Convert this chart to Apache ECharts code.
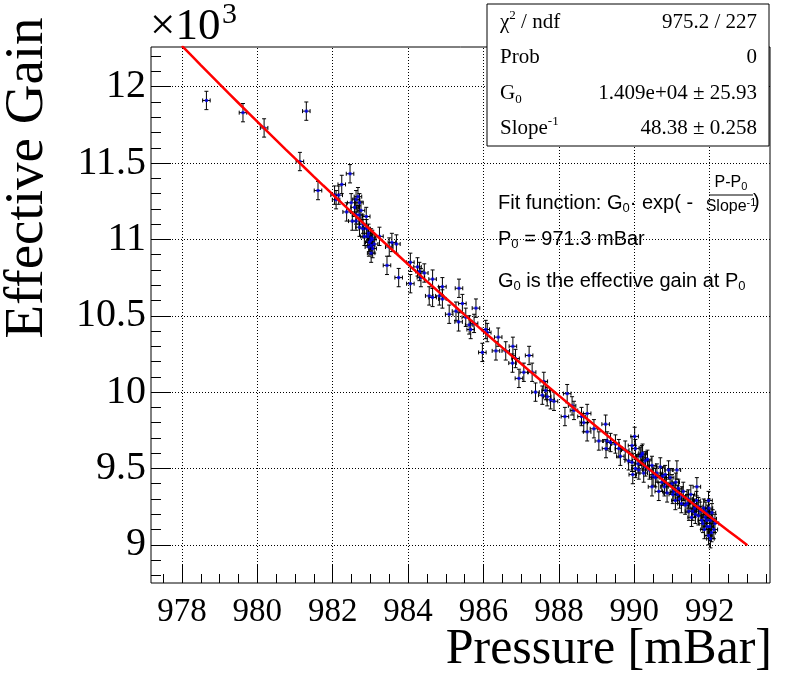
<!DOCTYPE html>
<html><head><meta charset="utf-8">
<script src="https://cdn.jsdelivr.net/npm/echarts@6/dist/echarts.min.js"></script>
<style>html,body{margin:0;padding:0;background:#fff}#c{width:788px;height:679px}</style>
</head><body><div id="c"></div>
<script>
// Pressure [mBar]
const pressure = [978.65,979.62,980.18,981.13,981.30,981.61,982.05,982.09,982.16,982.24,982.37,982.46,982.49,982.52,982.58,982.62,982.62,982.62,982.67,982.70,982.71,982.71,982.75,982.80,982.80,982.84,982.89,982.90,982.93,982.95,982.96,982.97,983.00,983.02,983.02,983.02,983.05,983.06,983.10,983.24,983.44,983.50,983.57,983.69,983.75,984.06,984.06,984.25,984.30,984.34,984.43,984.56,984.65,984.65,984.83,984.91,984.91,985.09,985.27,985.34,985.35,985.44,985.53,985.62,985.66,985.75,985.80,985.97,986.06,986.10,986.33,986.39,986.59,986.77,986.78,986.85,986.94,987.07,987.21,987.29,987.38,987.56,987.60,987.65,987.69,987.78,987.87,988.16,988.22,988.35,988.40,988.60,988.66,988.75,988.75,988.93,989.06,989.24,989.25,989.28,989.37,989.50,989.59,989.63,989.76,989.85,989.94,989.94,989.96,990.01,990.03,990.03,990.10,990.12,990.16,990.20,990.22,990.25,990.29,990.30,990.35,990.40,990.47,990.47,990.50,990.56,990.60,990.65,990.69,990.73,990.75,990.80,990.82,990.85,990.87,990.91,990.95,991.00,991.02,991.05,991.09,991.10,991.13,991.15,991.17,991.20,991.25,991.26,991.30,991.35,991.40,991.44,991.45,991.50,991.52,991.55,991.57,991.60,991.62,991.65,991.66,991.70,991.70,991.75,991.79,991.82,991.84,991.86,991.88,991.90,991.92,991.93,991.95,991.97,991.97,991.98,992.00,992.01,992.02,992.05,992.06,992.08,992.11,992.14];
// Effective gain [x10^3]
const gain = [11.91,11.83,11.73,11.51,11.84,11.32,11.29,11.26,11.29,11.36,11.18,11.43,11.24,11.12,11.21,11.26,11.16,11.12,11.28,11.16,11.24,11.08,11.19,11.07,11.10,11.02,11.15,11.07,11.02,11.04,10.95,10.98,10.99,11.01,10.96,10.91,11.00,10.94,10.97,11.02,10.83,10.95,10.98,10.97,10.75,10.85,10.71,10.82,10.79,10.75,10.78,10.63,10.74,10.62,10.63,10.69,10.61,10.51,10.53,10.46,10.68,10.58,10.49,10.44,10.41,10.45,10.55,10.26,10.41,10.39,10.27,10.36,10.27,10.19,10.30,10.22,10.09,10.13,10.24,10.13,10.00,9.98,10.07,10.01,9.97,9.95,9.94,9.84,9.99,9.91,9.88,9.84,9.80,9.86,9.74,9.76,9.68,9.79,9.63,9.68,9.67,9.66,9.63,9.58,9.62,9.55,9.65,9.54,9.46,9.71,9.63,9.50,9.53,9.49,9.58,9.59,9.60,9.47,9.55,9.51,9.56,9.49,9.52,9.38,9.45,9.44,9.47,9.35,9.51,9.41,9.45,9.38,9.46,9.40,9.34,9.49,9.44,9.40,9.33,9.35,9.29,9.41,9.49,9.33,9.37,9.30,9.27,9.32,9.35,9.26,9.27,9.30,9.22,9.33,9.18,9.22,9.27,9.24,9.20,9.29,9.38,9.25,9.19,9.22,9.16,9.14,9.24,9.10,9.18,9.22,9.16,9.12,9.20,9.29,9.06,9.24,9.12,9.16,9.04,9.08,9.21,9.17,9.10,9.14];
const pressureErr = 0.1;
const gainErr = 0.06;

const xTickValues = [978,980,982,984,986,988,990,992];
const yTickValues = [9,9.5,10,10.5,11,11.5,12];
const xRange = [977.18, 993.6];
const yRange = [8.75, 12.26];

// fit results
const fitG0 = 14.09;      // x10^3
const fitP0 = 971.3;
const fitSlopeInv = 48.38;
const fitRange = [978, 993];

const xMinor = []; for (let v = 977.5; v <= 993.5; v += 0.5) xMinor.push(+v.toFixed(2));
const yMinor = []; for (let v = 8.8; v <= 12.25; v += 0.1) yMinor.push(+v.toFixed(2));

const points = pressure.map((p, i) => [p, gain[i]]);
const fitCurve = [];
for (let p = fitRange[0]; p <= fitRange[1] + 1e-9; p += 0.25) {
  fitCurve.push([p, fitG0 * Math.exp(-(p - fitP0) / fitSlopeInv)]);
}

const SERIF = '"Liberation Serif","Times New Roman",serif';
const SANS = '"Liberation Sans",Arial,sans-serif';

function renderErr(params, api) {
  const x = api.value(0), y = api.value(1);
  const l = api.coord([x - pressureErr, y]);
  const r = api.coord([x + pressureErr, y]);
  const t = api.coord([x, y + gainErr]);
  const b = api.coord([x, y - gainErr]);
  const cap = 2;
  const ls = { stroke: '#000', lineWidth: 1 };
  return { type: 'group', children: [
    { type: 'line', shape: { x1: l[0], y1: l[1], x2: r[0], y2: r[1] }, style: ls },
    { type: 'line', shape: { x1: t[0], y1: t[1], x2: b[0], y2: b[1] }, style: ls },
    { type: 'line', shape: { x1: t[0] - cap, y1: t[1], x2: t[0] + cap, y2: t[1] }, style: ls },
    { type: 'line', shape: { x1: b[0] - cap, y1: b[1], x2: b[0] + cap, y2: b[1] }, style: ls },
    { type: 'line', shape: { x1: l[0], y1: l[1] - cap, x2: l[0], y2: l[1] + cap }, style: ls },
    { type: 'line', shape: { x1: r[0], y1: r[1] - cap, x2: r[0], y2: r[1] + cap }, style: ls }
  ]};
}

const chart = echarts.init(document.getElementById('c'), null, { renderer: 'canvas' });

const richBase = {
  n: { fontFamily: SERIF, fontSize: 21, lineHeight: 26, color: '#000' },
  sup: { fontFamily: SERIF, fontSize: 13, lineHeight: 13, verticalAlign: 'top', color: '#000' },
  sub: { fontFamily: SERIF, fontSize: 13, lineHeight: 13, verticalAlign: 'bottom', color: '#000' }
};
const richSans = {
  n: { fontFamily: SANS, fontSize: 20, lineHeight: 24, color: '#000' },
  sup: { fontFamily: SANS, fontSize: 13, lineHeight: 12, verticalAlign: 'top', color: '#000' },
  sub: { fontFamily: SANS, fontSize: 13, lineHeight: 12, verticalAlign: 'bottom', color: '#000' }
};
const richFrac = {
  n: { fontFamily: SANS, fontSize: 16, lineHeight: 19, color: '#000' },
  sup: { fontFamily: SANS, fontSize: 11, lineHeight: 10, verticalAlign: 'top', color: '#000' },
  sub: { fontFamily: SANS, fontSize: 11, lineHeight: 10, verticalAlign: 'bottom', color: '#000' }
};

const statRows = [
  ['{n|χ}{sup|2}{n| / ndf}', '975.2 / 227'],
  ['{n|Prob}', '0'],
  ['{n|G}{sub|0}', '1.409e+04 ± 25.93'],
  ['{n|Slope}{sup|-1}', '48.38 ± 0.258']
];
const statGraphics = [];
statGraphics.push({ type: 'rect', z: 100, shape: { x: 487, y: 4, width: 282, height: 142 }, style: { fill: '#fff', stroke: '#000', lineWidth: 1 } });
statRows.forEach((row, i) => {
  const yc = 22 + i * 35.5;
  statGraphics.push({ type: 'text', z: 101, x: 500, y: yc, style: { text: row[0], rich: richBase, align: 'left', verticalAlign: 'middle' } });
  statGraphics.push({ type: 'text', z: 101, x: 757, y: yc, style: { text: row[1], font: '21px ' + SERIF, fill: '#000', align: 'right', verticalAlign: 'middle' } });
});

const option = {
  animation: false,
  backgroundColor: '#fff',
  grid: { left: 151, top: 47, width: 619, height: 536, show: true, borderColor: '#000', borderWidth: 1, backgroundColor: 'transparent' },
  xAxis: [
    { type: 'value', min: xRange[0], max: xRange[1],
      axisLine: { show: false },
      axisTick: { show: true, inside: true, length: 18, customValues: xTickValues, lineStyle: { color: '#000', width: 1 } },
      axisLabel: { customValues: xTickValues, fontFamily: SERIF, fontSize: 33, color: '#000', margin: 13 },
      splitLine: { show: false } },
    { type: 'value', min: xRange[0], max: xRange[1], position: 'bottom',
      axisLine: { show: false },
      axisTick: { show: true, inside: true, length: 9, customValues: xMinor, lineStyle: { color: '#000', width: 1 } },
      axisLabel: { show: false }, splitLine: { show: false } }
  ],
  yAxis: [
    { type: 'value', min: yRange[0], max: yRange[1],
      axisLine: { show: false },
      axisTick: { show: true, inside: true, length: 20, customValues: yTickValues, lineStyle: { color: '#000', width: 1 } },
      axisLabel: { customValues: yTickValues, fontFamily: SERIF, fontSize: 40, color: '#000', margin: 5 },
      splitLine: { show: false } },
    { type: 'value', min: yRange[0], max: yRange[1], position: 'left',
      axisLine: { show: false },
      axisTick: { show: true, inside: true, length: 10, customValues: yMinor, lineStyle: { color: '#000', width: 1 } },
      axisLabel: { show: false }, splitLine: { show: false } }
  ],
  series: [
    { type: 'custom', name: 'errors', xAxisIndex: 0, yAxisIndex: 0, z: 3,
      data: points, encode: { x: 0, y: 1 }, renderItem: renderErr, clip: true,
      markLine: { silent: true, symbol: ['none', 'none'], label: { show: false }, z: 1,
        lineStyle: { color: '#000', type: [1, 2], width: 1 },
        emphasis: { disabled: true },
        data: xTickValues.map(v => ({ xAxis: v })).concat(yTickValues.map(v => ({ yAxis: v }))) } },
    { type: 'scatter', name: 'points', z: 4, data: points, symbol: 'rect', symbolSize: 3,
      itemStyle: { color: '#0000ff' }, silent: true },
    { type: 'line', name: 'fit', z: 5, data: fitCurve, showSymbol: false, symbol: 'none', smooth: false, clip: true,
      lineStyle: { color: '#ff0000', width: 2.5 }, silent: true }
  ],
  graphic: [
    { type: 'text', x: 150, y: 27, style: { text: '×10', font: '45px ' + SERIF, fill: '#000', align: 'left', verticalAlign: 'middle' } },
    { type: 'text', x: 222, y: 15, style: { text: '3', font: '30px ' + SERIF, fill: '#000', align: 'left', verticalAlign: 'middle' } },
    { type: 'text', x: 28, y: 178, rotation: Math.PI / 2, style: { text: 'Effective Gain', font: '55px ' + SERIF, fill: '#000', align: 'center', verticalAlign: 'middle' } },
    { type: 'text', x: 772, y: 650, style: { text: 'Pressure [mBar]', font: '50px ' + SERIF, fill: '#000', align: 'right', verticalAlign: 'middle' } },
    // fit function description
    { type: 'text', z: 101, x: 498, y: 203, style: { text: '{n|Fit function: G}{sub|0}{n|· exp( - }', rich: richSans, align: 'left', verticalAlign: 'middle' } },
    { type: 'text', z: 101, x: 731, y: 183, style: { text: '{n|P-P}{sub|0}', rich: richFrac, align: 'center', verticalAlign: 'middle' } },
    { type: 'line', z: 101, shape: { x1: 709, y1: 195, x2: 753, y2: 195 }, style: { stroke: '#000', lineWidth: 1 } },
    { type: 'text', z: 101, x: 731, y: 207, style: { text: '{n|Slope}{sup|-1}', rich: richFrac, align: 'center', verticalAlign: 'middle' } },
    { type: 'text', z: 101, x: 753, y: 202, style: { text: ')', font: '20px ' + SANS, fill: '#000', align: 'left', verticalAlign: 'middle' } },
    { type: 'text', z: 101, x: 498, y: 239, style: { text: '{n|P}{sub|0}{n| = 971.3 mBar}', rich: richSans, align: 'left', verticalAlign: 'middle' } },
    { type: 'text', z: 101, x: 498, y: 281, style: { text: '{n|G}{sub|0}{n| is the effective gain at P}{sub|0}', rich: richSans, align: 'left', verticalAlign: 'middle' } }
  ].concat(statGraphics)
};
chart.setOption(option);
</script>
</body></html>
